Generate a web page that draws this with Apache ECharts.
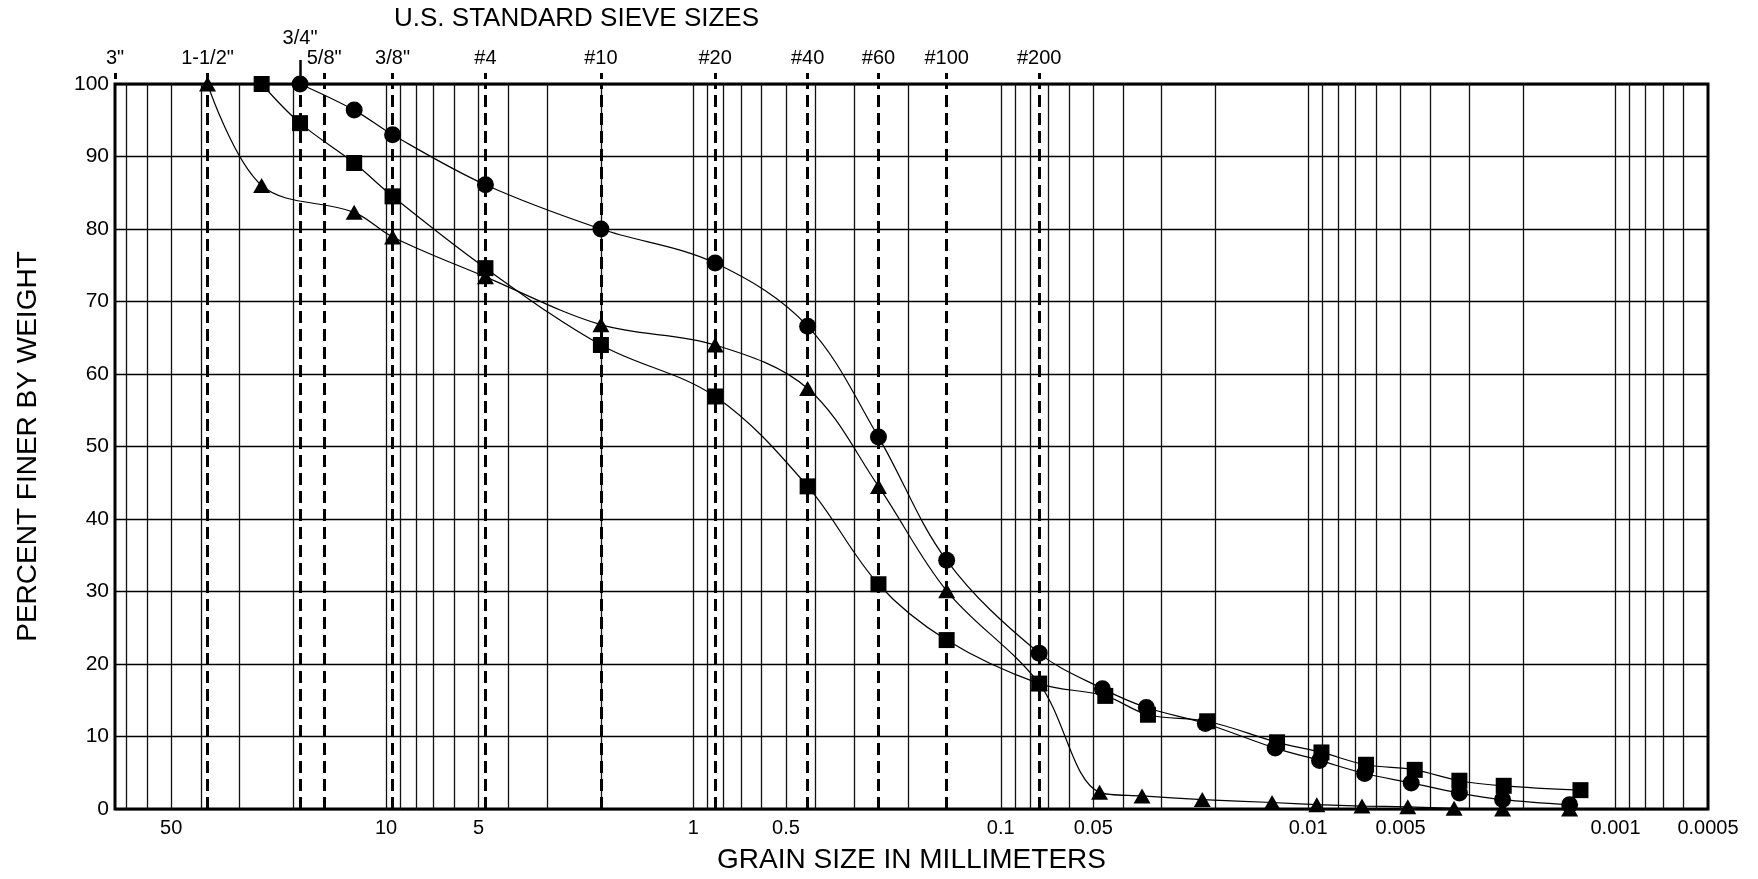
<!DOCTYPE html>
<html>
<head>
<meta charset="utf-8">
<script src="https://cdn.jsdelivr.net/npm/echarts@6/dist/echarts.min.js"></script>
<style>
html,body{margin:0;padding:0;background:#fff;}
#chart{width:1758px;height:879px;}
</style>
</head>
<body>
<div id="chart"></div>
<script>
// ---- Data ----
const sieveNames = ['3"', '1-1/2"', '3/4"', '5/8"', '3/8"', '#4', '#10', '#20', '#40', '#60', '#100', '#200'];
const sieveSizes = [76.2, 38.1, 19.05, 15.9, 9.525, 4.75, 2.0, 0.85, 0.425, 0.25, 0.15, 0.075];

const xTickValues = [50, 10, 5, 1, 0.5, 0.1, 0.05, 0.01, 0.005, 0.001, 0.0005];
const xTickLabels = ['50', '10', '5', '1', '0.5', '0.1', '0.05', '0.01', '0.005', '0.001', '0.0005'];

const gridSizes = [70, 60, 50, 40, 30, 20,
  10, 9, 8, 7, 6, 5, 4, 3, 2,
  1, 0.9, 0.8, 0.7, 0.6, 0.5, 0.4, 0.3, 0.2,
  0.1, 0.09, 0.08, 0.07, 0.06, 0.05, 0.04, 0.03, 0.02,
  0.01, 0.009, 0.008, 0.007, 0.006, 0.005, 0.004, 0.003, 0.002,
  0.001, 0.0009, 0.0008, 0.0007, 0.0006];

const circleSize = [19.05, 12.7, 9.525, 4.75, 2.0, 0.85, 0.425, 0.25, 0.15, 0.075, 0.0467, 0.0336, 0.0216, 0.0128, 0.00918, 0.00655, 0.00462, 0.00322, 0.00233, 0.00141];
const circlePct  = [100, 96.4, 93.0, 86.1, 80.0, 75.3, 66.6, 51.3, 34.3, 21.5, 16.6, 14.0, 11.8, 8.4, 6.7, 4.9, 3.6, 2.2, 1.3, 0.6];

const squareSize = [25.4, 19.05, 12.7, 9.525, 4.75, 2.0, 0.85, 0.425, 0.25, 0.15, 0.075, 0.0457, 0.0332, 0.0213, 0.01262, 0.00905, 0.00648, 0.0045, 0.00322, 0.00231, 0.0013];
const squarePct  = [100, 94.6, 89.1, 84.5, 74.6, 64.0, 56.9, 44.5, 31.0, 23.3, 17.3, 15.6, 13.0, 12.1, 9.2, 7.8, 6.1, 5.4, 3.9, 3.2, 2.6];

const triangleSize = [38.1, 25.4, 12.7, 9.525, 4.75, 2.0, 0.85, 0.425, 0.25, 0.15, 0.075, 0.0477, 0.0347, 0.0221, 0.0131, 0.00937, 0.00668, 0.00474, 0.00335, 0.00233, 0.00141];
const trianglePct  = [100, 86.0, 82.3, 78.9, 73.4, 66.8, 64.0, 58.0, 44.5, 30.1, 17.3, 2.3, 1.8, 1.3, 0.9, 0.6, 0.4, 0.3, 0.1, 0, 0];

// ---- Chart ----
const FONT = '"Liberation Sans", Arial, sans-serif';
const X_MIN = 0.0005, X_MAX = 76.2;

function zip(a, b) { return a.map((v, i) => [v, b[i]]); }
function nearestIndex(arr, v) {
  let best = 0, bd = Infinity;
  arr.forEach((a, i) => { const d = Math.abs(Math.log(a) - Math.log(v)); if (d < bd) { bd = d; best = i; } });
  return best;
}

const mainSieves = sieveSizes.filter((v, i) => sieveNames[i] !== '3/4"');
const raisedSieves = sieveSizes.filter((v, i) => sieveNames[i] === '3/4"');
const dashedSieves = sieveSizes.filter((v, i) => sieveNames[i] !== '3"');

const baseLog = { type: 'log', logBase: 10, min: X_MIN, max: X_MAX, inverse: true, gridIndex: 0 };

const chart = echarts.init(document.getElementById('chart'), null, { renderer: 'canvas' });
chart.setOption({
  animation: false,
  backgroundColor: '#fff',
  textStyle: { fontFamily: FONT, color: '#000' },
  title: {
    text: 'U.S. STANDARD SIEVE SIZES',
    left: 394, top: 6, padding: 0,
    textStyle: { fontFamily: FONT, fontSize: 26, fontWeight: 'normal', color: '#000' }
  },
  grid: {
    left: 115, right: 50, top: 84, bottom: 66,
    show: true, borderColor: '#000', borderWidth: 3, backgroundColor: 'transparent'
  },
  xAxis: [
    Object.assign({}, baseLog, {
      position: 'bottom',
      name: 'GRAIN SIZE IN MILLIMETERS',
      nameLocation: 'middle', nameGap: 37,
      nameTextStyle: { fontFamily: FONT, fontSize: 28, color: '#000' },
      axisLine: { show: false },
      axisTick: { show: false },
      splitLine: { show: false },
      minorTick: { show: false }, minorSplitLine: { show: false },
      axisLabel: {
        customValues: xTickValues,
        fontFamily: FONT, fontSize: 20, color: '#000', margin: 9,
        formatter: v => xTickLabels[nearestIndex(xTickValues, v)]
      }
    }),
    Object.assign({}, baseLog, {
      position: 'top', offset: 5,
      axisLine: { show: false },
      splitLine: { show: false },
      axisTick: { show: true, customValues: mainSieves, length: 6, inside: false, lineStyle: { color: '#000', width: 3 } },
      axisLabel: {
        customValues: mainSieves,
        fontFamily: FONT, fontSize: 20, color: '#000', margin: 11,
        formatter: v => sieveNames[nearestIndex(sieveSizes, v)]
      }
    }),
    Object.assign({}, baseLog, {
      position: 'top', offset: 0,
      axisLine: { show: false },
      splitLine: { show: false },
      axisTick: { show: true, customValues: raisedSieves, length: 24, inside: false, lineStyle: { color: '#000', width: 2.5 } },
      axisLabel: {
        customValues: raisedSieves,
        fontFamily: FONT, fontSize: 20, color: '#000', margin: 36,
        formatter: v => sieveNames[nearestIndex(sieveSizes, v)]
      }
    })
  ],
  yAxis: {
    type: 'value', min: 0, max: 100, interval: 10,
    name: 'PERCENT FINER BY WEIGHT',
    nameLocation: 'middle', nameGap: 73, nameRotate: 90,
    nameTextStyle: { fontFamily: FONT, fontSize: 28, color: '#000' },
    axisLine: { show: false },
    axisTick: { show: false },
    axisLabel: { fontFamily: FONT, fontSize: 21, color: '#000', margin: 6 },
    splitLine: { show: true, lineStyle: { color: '#000', width: 1.4 } }
  },
  series: [
    {
      name: 'grid', type: 'line', xAxisIndex: 0, data: [], z: 1, silent: true,
      markLine: {
        silent: true, animation: false, symbol: ['none', 'none'], precision: 8,
        label: { show: false },
        lineStyle: { color: '#111', width: 1.3, type: 'solid' },
        emphasis: { disabled: true },
        data: gridSizes.map(v => ({ xAxis: v }))
      }
    },
    {
      name: 'sieves', type: 'line', xAxisIndex: 0, data: [], z: 1, silent: true,
      markLine: {
        silent: true, animation: false, symbol: ['none', 'none'], precision: 8,
        label: { show: false },
        lineStyle: { color: '#000', width: 3, type: [12, 6] },
        emphasis: { disabled: true },
        data: dashedSieves.map(v => ({ xAxis: v }))
      }
    },
    {
      name: 'Sample A', type: 'line', xAxisIndex: 0, z: 5, smooth: 0.35,
      data: zip(circleSize, circlePct),
      symbol: 'circle', symbolSize: 17,
      itemStyle: { color: '#000' },
      lineStyle: { color: '#000', width: 1.2 }
    },
    {
      name: 'Sample B', type: 'line', xAxisIndex: 0, z: 5, smooth: 0.35,
      data: zip(squareSize, squarePct),
      symbol: 'rect', symbolSize: 16,
      itemStyle: { color: '#000' },
      lineStyle: { color: '#000', width: 1.2 }
    },
    {
      name: 'Sample C', type: 'line', xAxisIndex: 0, z: 5, smooth: 0.35,
      data: zip(triangleSize, trianglePct),
      symbol: 'triangle', symbolSize: [17, 15],
      itemStyle: { color: '#000' },
      lineStyle: { color: '#000', width: 1.2 }
    }
  ]
});
</script>
</body>
</html>
